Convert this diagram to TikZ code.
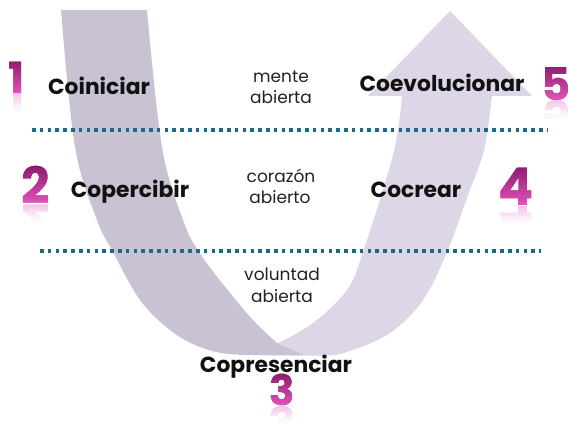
\documentclass[tikz,border=0pt]{standalone}
\usepackage{fontspec}
\setmainfont{Poppins}
\definecolor{bandA}{HTML}{C8C2D3}
\definecolor{bandB}{HTML}{DCD6E7}
\definecolor{dotc}{HTML}{186A88}
\definecolor{dpurple}{HTML}{8A1C6C}
\definecolor{dpink}{HTML}{E24FB9}
\definecolor{rpink}{HTML}{EE9FD9}
\definecolor{ttl}{HTML}{111111}
\definecolor{lbl}{HTML}{222222}
% #1 name, #2 x, #3 top y, #4 baseline y, #5 font size, #6 digit
\newcommand\gdig[6]{%
  \node[digstyle, font=\bfseries\fontsize{#5}{#5}\selectfont, text=dpink!50!dpurple] (#1) at (#2,#4) {#6};
  \foreach \i in {0,...,11}{%
    \pgfmathsetmacro\ya{#3-3+(#4-#3+4)*\i/12}%
    \pgfmathsetmacro\yb{#3-3+(#4-#3+4)*(\i+1)/12+1.2}%
    \pgfmathtruncatemacro\p{\i*100/11}%
    \begin{scope}
      \clip (#2-40,\ya) rectangle (#2+40,\yb);
      \node[digstyle, font=\bfseries\fontsize{#5}{#5}\selectfont, text=dpink!\p!dpurple] (#1\i) at (#2,#4) {#6};
    \end{scope}
  }%
  \foreach \i in {0,...,7}{%
    \pgfmathsetmacro\ya{#4+1+\i*2}%
    \pgfmathsetmacro\yb{\ya+3}%
    \pgfmathtruncatemacro\q{60*(1-\i/8)}%
    \begin{scope}
      \clip (#2-40,\ya) rectangle (#2+40,\yb);
      \node[digstyle, yscale=-1, font=\bfseries\fontsize{#5}{#5}\selectfont, text=rpink!\q!white] (#1r\i) at (#2,#4+1) {#6};
    \end{scope}
  }%
}
\begin{document}
\begin{tikzpicture}[x=1pt,y=-1pt,
  digstyle/.style={inner sep=0pt, anchor=base},
  title/.style={inner sep=0pt, anchor=base, text=ttl, font=\bfseries\fontsize{21.8}{25}\selectfont},
  lab/.style={inner sep=0pt, anchor=base, text=lbl, font=\fontsize{17}{20}\selectfont},
  dotl/.style={draw=dotc, line width=3.6pt, dash pattern=on 3.6pt off 4.2pt}]
\useasboundingbox (0,0) rectangle (568,428);
% right (light) band with arrow head
\fill[bandB] plot[smooth, tension=0.6] coordinates {(262,355) (323,355.5) (347,352) (390,333) (423,300) (447,252) (468,195) (484,150) (492,96)}
  -- (532,96) -- (450,11) -- (368,96) -- (402,96)
  -- plot[smooth, tension=0.6] coordinates {(402,96) (393,155) (363,252) (347,290) (313,323) (278,343)}
  -- (262,350) -- cycle;
% left (darker) band
\fill[bandA] plot[smooth, tension=0.6] coordinates {(61,10) (75,147) (97,220) (113,252) (140,300) (170,330) (200,347) (235,354.5) (303,355)}
  -- (277,343)
  -- plot[smooth, tension=0.6] coordinates {(277,343) (253,320) (226,288) (199,252) (183,220) (162,147) (147,10)}
  -- cycle;
% dotted lines
\coordinate (l1a) at (32,130); \coordinate (l1b) at (548,130);
\coordinate (l2a) at (40,251); \coordinate (l2b) at (541,251);
\draw[dotl] (l1a) -- (l1b);
\draw[dotl] (l2a) -- (l2b);
% titles
\node[title] (coin) at (99,95) {Coiniciar};
\node[title] (coev) at (442,92) {Coevolucionar};
\node[title] (coper) at (130,197) {Copercibir};
\node[title] (cocr) at (416,197) {Cocrear};
\node[title] (copr) at (276,372) {Copresenciar};
% labels
\node[lab] (m1) at (281,82) {mente};
\node[lab] (m2) at (281,103) {abierta};
\node[lab] (c1) at (281,182) {corazón};
\node[lab] (c2) at (280,203) {abierto};
\node[lab] (v1) at (282,280) {voluntad};
\node[lab] (v2) at (282,302) {abierta};
% digits
\gdig{da}{17}{63}{93}{43}{1}
\gdig{db}{36}{168}{203}{50}{2}
\gdig{dc}{282}{376}{405}{42}{3}
\gdig{dd}{516}{168}{205}{52}{4}
\gdig{de}{556}{67}{100}{45}{5}
\end{tikzpicture}
\end{document}
